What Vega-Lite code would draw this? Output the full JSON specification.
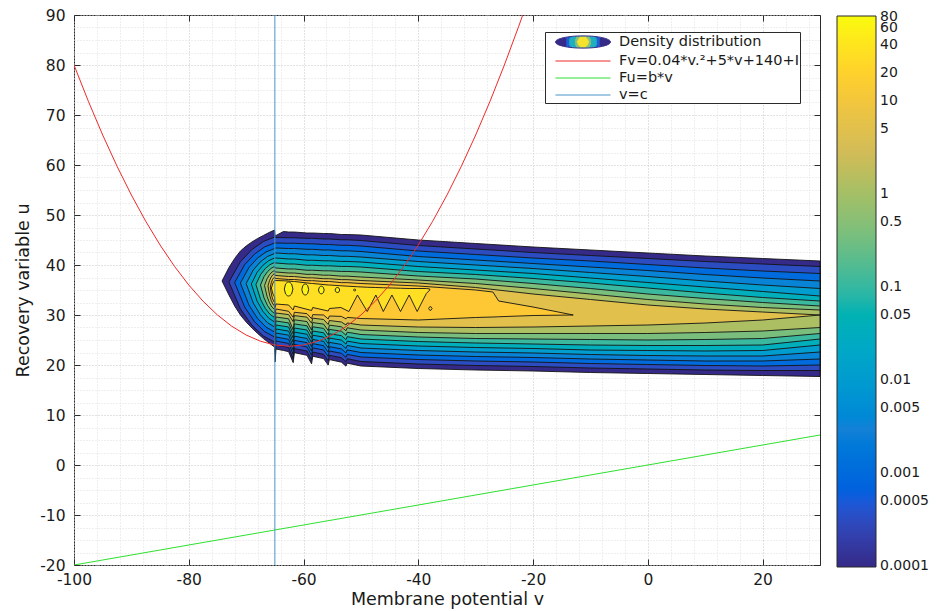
{
  "$schema": "https://vega.github.io/schema/vega-lite/v6.json",
  "width": 746,
  "height": 550,
  "autosize": "none",
  "padding": {"left": 74, "top": 15, "right": 118, "bottom": 46},
  "background": "white",
  "config": {
    "view": {"stroke": "#2b2b2b", "strokeWidth": 1},
    "font": "DejaVu Sans",
    "axis": {"labelFont": "DejaVu Sans", "titleFont": "DejaVu Sans", "titleFontWeight": "normal", "labelColor": "#1a1a1a", "titleColor": "#1a1a1a"}
  },
  "datasets": {
    "contour": [
      {"g":"k0","l":0.0001,"v":-74.2,"lo":36.8,"hi":36.8},
      {"g":"k0","l":0.0001,"v":-73,"lo":34,"hi":39.5},
      {"g":"k0","l":0.0001,"v":-72,"lo":31.8,"hi":41.3},
      {"g":"k0","l":0.0001,"v":-71,"lo":30,"hi":42.8},
      {"g":"k0","l":0.0001,"v":-70,"lo":28.6,"hi":43.8},
      {"g":"k0","l":0.0001,"v":-69,"lo":27.4,"hi":44.6},
      {"g":"k0","l":0.0001,"v":-68,"lo":26.3,"hi":45.3},
      {"g":"k0","l":0.0001,"v":-67,"lo":25.3,"hi":45.9},
      {"g":"k0","l":0.0001,"v":-66,"lo":24.4,"hi":46.5},
      {"g":"k0","l":0.0001,"v":-65.05,"lo":23.6,"hi":47.0},
      {"g":"k0","l":0.0001,"v":-64.95,"lo":20.6,"hi":45.8},
      {"g":"k0","l":0.0001,"v":-64.8,"lo":23.2,"hi":45.9},
      {"g":"k0","l":0.0001,"v":-63.5,"lo":22.9,"hi":46.7},
      {"g":"k0","l":0.0001,"v":-62.6,"lo":22.67,"hi":46.6},
      {"g":"k0","l":0.0001,"v":-61.8,"lo":20.47,"hi":46.6},
      {"g":"k0","l":0.0001,"v":-61.6,"lo":22.47,"hi":46.6},
      {"g":"k0","l":0.0001,"v":-59.4,"lo":21.94,"hi":46.4},
      {"g":"k0","l":0.0001,"v":-58.6,"lo":20.24,"hi":46.4},
      {"g":"k0","l":0.0001,"v":-58.4,"lo":21.74,"hi":46.4},
      {"g":"k0","l":0.0001,"v":-56.5,"lo":21.28,"hi":46.3},
      {"g":"k0","l":0.0001,"v":-55.7,"lo":19.98,"hi":46.3},
      {"g":"k0","l":0.0001,"v":-55.5,"lo":21.08,"hi":46.3},
      {"g":"k0","l":0.0001,"v":-53.4,"lo":20.57,"hi":46.1},
      {"g":"k0","l":0.0001,"v":-52.6,"lo":19.77,"hi":46.1},
      {"g":"k0","l":0.0001,"v":-52.4,"lo":20.37,"hi":46.1},
      {"g":"k0","l":0.0001,"v":-50,"lo":19.8,"hi":46.0},
      {"g":"k0","l":0.0001,"v":-40,"lo":19.3,"hi":45.0},
      {"g":"k0","l":0.0001,"v":-30,"lo":19.0,"hi":44.3},
      {"g":"k0","l":0.0001,"v":-20,"lo":18.8,"hi":43.6},
      {"g":"k0","l":0.0001,"v":-10,"lo":18.5,"hi":43.0},
      {"g":"k0","l":0.0001,"v":0,"lo":18.3,"hi":42.4},
      {"g":"k0","l":0.0001,"v":10,"lo":18.1,"hi":41.8},
      {"g":"k0","l":0.0001,"v":20,"lo":17.9,"hi":41.3},
      {"g":"k0","l":0.0001,"v":30,"lo":17.7,"hi":40.8},

      {"g":"k1","l":0.00032,"v":-73.0,"lo":36.6,"hi":36.6},
      {"g":"k1","l":0.00032,"v":-71.0,"lo":31.2,"hi":40.65},
      {"g":"k1","l":0.00032,"v":-69.0,"lo":27.96,"hi":43.08},
      {"g":"k1","l":0.00032,"v":-67.0,"lo":25.8,"hi":44.7},
      {"g":"k1","l":0.00032,"v":-65.05,"lo":24.6,"hi":45.6},
      {"g":"k1","l":0.00032,"v":-64.95,"lo":22.5,"hi":45.5},
      {"g":"k1","l":0.00032,"v":-64.8,"lo":24.0,"hi":45.5},
      {"g":"k1","l":0.00032,"v":-62.6,"lo":23.49,"hi":45.45},
      {"g":"k1","l":0.00032,"v":-61.8,"lo":21.29,"hi":45.45},
      {"g":"k1","l":0.00032,"v":-61.6,"lo":23.29,"hi":45.45},
      {"g":"k1","l":0.00032,"v":-59.4,"lo":22.79,"hi":45.34},
      {"g":"k1","l":0.00032,"v":-58.6,"lo":21.09,"hi":45.34},
      {"g":"k1","l":0.00032,"v":-58.4,"lo":22.59,"hi":45.34},
      {"g":"k1","l":0.00032,"v":-56.5,"lo":22.14,"hi":45.2},
      {"g":"k1","l":0.00032,"v":-55.7,"lo":20.84,"hi":45.2},
      {"g":"k1","l":0.00032,"v":-55.5,"lo":21.94,"hi":45.2},
      {"g":"k1","l":0.00032,"v":-53.4,"lo":21.46,"hi":45.04},
      {"g":"k1","l":0.00032,"v":-52.6,"lo":20.66,"hi":45.04},
      {"g":"k1","l":0.00032,"v":-52.4,"lo":21.26,"hi":45.04},
      {"g":"k1","l":0.00032,"v":-50,"lo":20.7,"hi":44.9},
      {"g":"k1","l":0.00032,"v":-40,"lo":20.2,"hi":43.9},
      {"g":"k1","l":0.00032,"v":-30,"lo":19.9,"hi":43.2},
      {"g":"k1","l":0.00032,"v":-20,"lo":19.7,"hi":42.5},
      {"g":"k1","l":0.00032,"v":-10,"lo":19.4,"hi":41.9},
      {"g":"k1","l":0.00032,"v":0,"lo":19.2,"hi":41.3},
      {"g":"k1","l":0.00032,"v":10,"lo":19.0,"hi":40.7},
      {"g":"k1","l":0.00032,"v":20,"lo":18.9,"hi":40.2},
      {"g":"k1","l":0.00032,"v":30,"lo":18.9,"hi":39.7},

      {"g":"k2","l":0.00105,"v":-72.0,"lo":36.5,"hi":36.5},
      {"g":"k2","l":0.00105,"v":-70.26,"lo":31.6,"hi":40.06},
      {"g":"k2","l":0.00105,"v":-68.53,"lo":28.65,"hi":42.19},
      {"g":"k2","l":0.00105,"v":-66.79,"lo":26.69,"hi":43.61},
      {"g":"k2","l":0.00105,"v":-65.05,"lo":25.6,"hi":44.4},
      {"g":"k2","l":0.00105,"v":-64.95,"lo":23.3,"hi":44.4},
      {"g":"k2","l":0.00105,"v":-64.8,"lo":24.8,"hi":44.4},
      {"g":"k2","l":0.00105,"v":-62.6,"lo":24.31,"hi":44.35},
      {"g":"k2","l":0.00105,"v":-61.8,"lo":22.11,"hi":44.35},
      {"g":"k2","l":0.00105,"v":-61.6,"lo":24.11,"hi":44.35},
      {"g":"k2","l":0.00105,"v":-59.4,"lo":23.62,"hi":44.24},
      {"g":"k2","l":0.00105,"v":-58.6,"lo":21.92,"hi":44.24},
      {"g":"k2","l":0.00105,"v":-58.4,"lo":23.42,"hi":44.24},
      {"g":"k2","l":0.00105,"v":-56.5,"lo":23.0,"hi":44.1},
      {"g":"k2","l":0.00105,"v":-55.7,"lo":21.7,"hi":44.1},
      {"g":"k2","l":0.00105,"v":-55.5,"lo":22.8,"hi":44.1},
      {"g":"k2","l":0.00105,"v":-53.4,"lo":22.33,"hi":43.94},
      {"g":"k2","l":0.00105,"v":-52.6,"lo":21.53,"hi":43.94},
      {"g":"k2","l":0.00105,"v":-52.4,"lo":22.13,"hi":43.94},
      {"g":"k2","l":0.00105,"v":-50,"lo":21.6,"hi":43.8},
      {"g":"k2","l":0.00105,"v":-40,"lo":21.1,"hi":42.8},
      {"g":"k2","l":0.00105,"v":-30,"lo":20.8,"hi":42.1},
      {"g":"k2","l":0.00105,"v":-20,"lo":20.6,"hi":41.4},
      {"g":"k2","l":0.00105,"v":-10,"lo":20.3,"hi":40.8},
      {"g":"k2","l":0.00105,"v":0,"lo":20.1,"hi":40.1},
      {"g":"k2","l":0.00105,"v":10,"lo":19.9,"hi":39.4},
      {"g":"k2","l":0.00105,"v":20,"lo":19.8,"hi":38.8},
      {"g":"k2","l":0.00105,"v":30,"lo":20.0,"hi":38.3},

      {"g":"k3","l":0.0033,"v":-71.0,"lo":36.4,"hi":36.4},
      {"g":"k3","l":0.0033,"v":-69.51,"lo":31.99,"hi":39.5},
      {"g":"k3","l":0.0033,"v":-68.03,"lo":29.34,"hi":41.37},
      {"g":"k3","l":0.0033,"v":-66.54,"lo":27.58,"hi":42.61},
      {"g":"k3","l":0.0033,"v":-65.05,"lo":26.6,"hi":43.3},
      {"g":"k3","l":0.0033,"v":-64.95,"lo":24.1,"hi":43.4},
      {"g":"k3","l":0.0033,"v":-64.8,"lo":25.6,"hi":43.4},
      {"g":"k3","l":0.0033,"v":-62.6,"lo":25.13,"hi":43.3},
      {"g":"k3","l":0.0033,"v":-61.8,"lo":22.93,"hi":43.3},
      {"g":"k3","l":0.0033,"v":-61.6,"lo":24.93,"hi":43.3},
      {"g":"k3","l":0.0033,"v":-59.4,"lo":24.47,"hi":43.14},
      {"g":"k3","l":0.0033,"v":-58.6,"lo":22.77,"hi":43.14},
      {"g":"k3","l":0.0033,"v":-58.4,"lo":24.27,"hi":43.14},
      {"g":"k3","l":0.0033,"v":-56.5,"lo":23.87,"hi":43.0},
      {"g":"k3","l":0.0033,"v":-55.7,"lo":22.57,"hi":43.0},
      {"g":"k3","l":0.0033,"v":-55.5,"lo":23.67,"hi":43.0},
      {"g":"k3","l":0.0033,"v":-53.4,"lo":23.22,"hi":42.84},
      {"g":"k3","l":0.0033,"v":-52.6,"lo":22.42,"hi":42.84},
      {"g":"k3","l":0.0033,"v":-52.4,"lo":23.02,"hi":42.84},
      {"g":"k3","l":0.0033,"v":-50,"lo":22.5,"hi":42.7},
      {"g":"k3","l":0.0033,"v":-40,"lo":22.0,"hi":41.7},
      {"g":"k3","l":0.0033,"v":-30,"lo":21.7,"hi":41.0},
      {"g":"k3","l":0.0033,"v":-20,"lo":21.5,"hi":40.3},
      {"g":"k3","l":0.0033,"v":-10,"lo":21.2,"hi":39.6},
      {"g":"k3","l":0.0033,"v":0,"lo":21.0,"hi":38.9},
      {"g":"k3","l":0.0033,"v":10,"lo":20.8,"hi":38.1},
      {"g":"k3","l":0.0033,"v":20,"lo":20.8,"hi":37.4},
      {"g":"k3","l":0.0033,"v":30,"lo":21.2,"hi":36.8},

      {"g":"k4","l":0.011,"v":-70.0,"lo":36.3,"hi":36.3},
      {"g":"k4","l":0.011,"v":-68.76,"lo":32.39,"hi":39.0},
      {"g":"k4","l":0.011,"v":-67.53,"lo":30.04,"hi":40.62},
      {"g":"k4","l":0.011,"v":-66.29,"lo":28.47,"hi":41.7},
      {"g":"k4","l":0.011,"v":-65.05,"lo":27.6,"hi":42.3},
      {"g":"k4","l":0.011,"v":-64.95,"lo":24.9,"hi":42.4},
      {"g":"k4","l":0.011,"v":-64.8,"lo":26.4,"hi":42.4},
      {"g":"k4","l":0.011,"v":-62.6,"lo":25.96,"hi":42.25},
      {"g":"k4","l":0.011,"v":-61.8,"lo":23.76,"hi":42.25},
      {"g":"k4","l":0.011,"v":-61.6,"lo":25.76,"hi":42.25},
      {"g":"k4","l":0.011,"v":-59.4,"lo":25.31,"hi":42.04},
      {"g":"k4","l":0.011,"v":-58.6,"lo":23.61,"hi":42.04},
      {"g":"k4","l":0.011,"v":-58.4,"lo":25.11,"hi":42.04},
      {"g":"k4","l":0.011,"v":-56.5,"lo":24.73,"hi":41.9},
      {"g":"k4","l":0.011,"v":-55.7,"lo":23.43,"hi":41.9},
      {"g":"k4","l":0.011,"v":-55.5,"lo":24.53,"hi":41.9},
      {"g":"k4","l":0.011,"v":-53.4,"lo":24.11,"hi":41.74},
      {"g":"k4","l":0.011,"v":-52.6,"lo":23.31,"hi":41.74},
      {"g":"k4","l":0.011,"v":-52.4,"lo":23.91,"hi":41.74},
      {"g":"k4","l":0.011,"v":-50,"lo":23.4,"hi":41.6},
      {"g":"k4","l":0.011,"v":-40,"lo":22.9,"hi":40.7},
      {"g":"k4","l":0.011,"v":-30,"lo":22.6,"hi":40.0},
      {"g":"k4","l":0.011,"v":-20,"lo":22.4,"hi":39.3},
      {"g":"k4","l":0.011,"v":-10,"lo":22.1,"hi":38.5},
      {"g":"k4","l":0.011,"v":0,"lo":21.9,"hi":37.7},
      {"g":"k4","l":0.011,"v":10,"lo":21.8,"hi":36.8},
      {"g":"k4","l":0.011,"v":20,"lo":21.8,"hi":36.0},
      {"g":"k4","l":0.011,"v":30,"lo":22.6,"hi":35.3},

      {"g":"k5","l":0.035,"v":-69.1,"lo":36.2,"hi":36.2},
      {"g":"k5","l":0.035,"v":-68.09,"lo":32.78,"hi":38.54},
      {"g":"k5","l":0.035,"v":-67.08,"lo":30.73,"hi":39.94},
      {"g":"k5","l":0.035,"v":-66.06,"lo":29.36,"hi":40.88},
      {"g":"k5","l":0.035,"v":-65.05,"lo":28.6,"hi":41.4},
      {"g":"k5","l":0.035,"v":-64.95,"lo":25.7,"hi":41.4},
      {"g":"k5","l":0.035,"v":-64.8,"lo":27.2,"hi":41.4},
      {"g":"k5","l":0.035,"v":-62.6,"lo":26.78,"hi":41.2},
      {"g":"k5","l":0.035,"v":-61.8,"lo":24.58,"hi":41.2},
      {"g":"k5","l":0.035,"v":-61.6,"lo":26.58,"hi":41.2},
      {"g":"k5","l":0.035,"v":-59.4,"lo":26.15,"hi":40.95},
      {"g":"k5","l":0.035,"v":-58.6,"lo":24.45,"hi":40.95},
      {"g":"k5","l":0.035,"v":-58.4,"lo":25.95,"hi":40.95},
      {"g":"k5","l":0.035,"v":-56.5,"lo":25.59,"hi":40.84},
      {"g":"k5","l":0.035,"v":-55.7,"lo":24.29,"hi":40.84},
      {"g":"k5","l":0.035,"v":-55.5,"lo":25.39,"hi":40.84},
      {"g":"k5","l":0.035,"v":-53.4,"lo":24.98,"hi":40.71},
      {"g":"k5","l":0.035,"v":-52.6,"lo":24.18,"hi":40.71},
      {"g":"k5","l":0.035,"v":-52.4,"lo":24.78,"hi":40.71},
      {"g":"k5","l":0.035,"v":-50,"lo":24.3,"hi":40.6},
      {"g":"k5","l":0.035,"v":-40,"lo":23.8,"hi":39.7},
      {"g":"k5","l":0.035,"v":-30,"lo":23.5,"hi":39.0},
      {"g":"k5","l":0.035,"v":-20,"lo":23.3,"hi":38.3},
      {"g":"k5","l":0.035,"v":-10,"lo":23.0,"hi":37.4},
      {"g":"k5","l":0.035,"v":0,"lo":22.9,"hi":36.5},
      {"g":"k5","l":0.035,"v":10,"lo":22.8,"hi":35.6},
      {"g":"k5","l":0.035,"v":20,"lo":22.9,"hi":34.7},
      {"g":"k5","l":0.035,"v":30,"lo":24.0,"hi":33.8},

      {"g":"k6","l":0.11,"v":-68.3,"lo":36.1,"hi":36.1},
      {"g":"k6","l":0.11,"v":-67.49,"lo":33.13,"hi":38.08},
      {"g":"k6","l":0.11,"v":-66.68,"lo":31.35,"hi":39.27},
      {"g":"k6","l":0.11,"v":-65.86,"lo":30.16,"hi":40.06},
      {"g":"k6","l":0.11,"v":-65.05,"lo":29.5,"hi":40.5},
      {"g":"k6","l":0.11,"v":-64.95,"lo":26.5,"hi":40.4},
      {"g":"k6","l":0.11,"v":-64.8,"lo":28.0,"hi":40.4},
      {"g":"k6","l":0.11,"v":-62.6,"lo":27.6,"hi":40.2},
      {"g":"k6","l":0.11,"v":-61.8,"lo":25.4,"hi":40.2},
      {"g":"k6","l":0.11,"v":-61.6,"lo":27.4,"hi":40.2},
      {"g":"k6","l":0.11,"v":-59.4,"lo":27.0,"hi":39.95},
      {"g":"k6","l":0.11,"v":-58.6,"lo":25.3,"hi":39.95},
      {"g":"k6","l":0.11,"v":-58.4,"lo":26.8,"hi":39.95},
      {"g":"k6","l":0.11,"v":-56.5,"lo":26.45,"hi":39.84},
      {"g":"k6","l":0.11,"v":-55.7,"lo":25.15,"hi":39.84},
      {"g":"k6","l":0.11,"v":-55.5,"lo":26.25,"hi":39.84},
      {"g":"k6","l":0.11,"v":-53.4,"lo":25.87,"hi":39.71},
      {"g":"k6","l":0.11,"v":-52.6,"lo":25.07,"hi":39.71},
      {"g":"k6","l":0.11,"v":-52.4,"lo":25.67,"hi":39.71},
      {"g":"k6","l":0.11,"v":-50,"lo":25.2,"hi":39.6},
      {"g":"k6","l":0.11,"v":-40,"lo":24.7,"hi":38.7},
      {"g":"k6","l":0.11,"v":-30,"lo":24.4,"hi":38.1},
      {"g":"k6","l":0.11,"v":-20,"lo":24.2,"hi":37.3},
      {"g":"k6","l":0.11,"v":-10,"lo":24.0,"hi":36.4},
      {"g":"k6","l":0.11,"v":0,"lo":23.9,"hi":35.4},
      {"g":"k6","l":0.11,"v":10,"lo":23.9,"hi":34.4},
      {"g":"k6","l":0.11,"v":20,"lo":24.0,"hi":33.5},
      {"g":"k6","l":0.11,"v":30,"lo":25.2,"hi":32.8},

      {"g":"k7","l":0.37,"v":-67.5,"lo":36.0,"hi":36.0},
      {"g":"k7","l":0.37,"v":-66.89,"lo":33.44,"hi":37.67},
      {"g":"k7","l":0.37,"v":-66.28,"lo":31.9,"hi":38.66},
      {"g":"k7","l":0.37,"v":-65.66,"lo":30.87,"hi":39.33},
      {"g":"k7","l":0.37,"v":-65.05,"lo":30.3,"hi":39.7},
      {"g":"k7","l":0.37,"v":-64.95,"lo":27.3,"hi":39.4},
      {"g":"k7","l":0.37,"v":-64.8,"lo":28.8,"hi":39.4},
      {"g":"k7","l":0.37,"v":-62.6,"lo":28.42,"hi":39.2},
      {"g":"k7","l":0.37,"v":-61.8,"lo":26.22,"hi":39.2},
      {"g":"k7","l":0.37,"v":-61.6,"lo":28.22,"hi":39.2},
      {"g":"k7","l":0.37,"v":-59.4,"lo":27.84,"hi":38.95},
      {"g":"k7","l":0.37,"v":-58.6,"lo":26.14,"hi":38.95},
      {"g":"k7","l":0.37,"v":-58.4,"lo":27.64,"hi":38.95},
      {"g":"k7","l":0.37,"v":-56.5,"lo":27.32,"hi":38.84},
      {"g":"k7","l":0.37,"v":-55.7,"lo":26.02,"hi":38.84},
      {"g":"k7","l":0.37,"v":-55.5,"lo":27.12,"hi":38.84},
      {"g":"k7","l":0.37,"v":-53.4,"lo":26.76,"hi":38.71},
      {"g":"k7","l":0.37,"v":-52.6,"lo":25.96,"hi":38.71},
      {"g":"k7","l":0.37,"v":-52.4,"lo":26.56,"hi":38.71},
      {"g":"k7","l":0.37,"v":-50,"lo":26.1,"hi":38.6},
      {"g":"k7","l":0.37,"v":-40,"lo":25.6,"hi":37.8},
      {"g":"k7","l":0.37,"v":-30,"lo":25.3,"hi":37.2},
      {"g":"k7","l":0.37,"v":-20,"lo":25.2,"hi":36.3},
      {"g":"k7","l":0.37,"v":-10,"lo":25.1,"hi":35.3},
      {"g":"k7","l":0.37,"v":0,"lo":25.0,"hi":34.2},
      {"g":"k7","l":0.37,"v":10,"lo":25.1,"hi":33.3},
      {"g":"k7","l":0.37,"v":20,"lo":25.3,"hi":32.5},
      {"g":"k7","l":0.37,"v":30,"lo":26.3,"hi":31.8},

      {"g":"k8","l":1.2,"v":-66.8,"lo":35.9,"hi":35.9},
      {"g":"k8","l":1.2,"v":-66.36,"lo":33.74,"hi":37.25},
      {"g":"k8","l":1.2,"v":-65.93,"lo":32.44,"hi":38.06},
      {"g":"k8","l":1.2,"v":-65.49,"lo":31.58,"hi":38.6},
      {"g":"k8","l":1.2,"v":-65.05,"lo":31.1,"hi":38.9},
      {"g":"k8","l":1.2,"v":-64.95,"lo":28.1,"hi":38.6},
      {"g":"k8","l":1.2,"v":-64.8,"lo":29.6,"hi":38.6},
      {"g":"k8","l":1.2,"v":-62.6,"lo":29.24,"hi":38.4},
      {"g":"k8","l":1.2,"v":-61.8,"lo":27.04,"hi":38.4},
      {"g":"k8","l":1.2,"v":-61.6,"lo":29.04,"hi":38.4},
      {"g":"k8","l":1.2,"v":-59.4,"lo":28.69,"hi":38.13},
      {"g":"k8","l":1.2,"v":-58.6,"lo":26.99,"hi":38.13},
      {"g":"k8","l":1.2,"v":-58.4,"lo":28.49,"hi":38.13},
      {"g":"k8","l":1.2,"v":-56.5,"lo":28.18,"hi":37.96},
      {"g":"k8","l":1.2,"v":-55.7,"lo":26.88,"hi":37.96},
      {"g":"k8","l":1.2,"v":-55.5,"lo":27.98,"hi":37.96},
      {"g":"k8","l":1.2,"v":-53.4,"lo":27.64,"hi":37.77},
      {"g":"k8","l":1.2,"v":-52.6,"lo":26.84,"hi":37.77},
      {"g":"k8","l":1.2,"v":-52.4,"lo":27.44,"hi":37.77},
      {"g":"k8","l":1.2,"v":-50,"lo":27.0,"hi":37.6},
      {"g":"k8","l":1.2,"v":-40,"lo":26.5,"hi":37.0},
      {"g":"k8","l":1.2,"v":-30,"lo":26.3,"hi":36.3},
      {"g":"k8","l":1.2,"v":-20,"lo":26.3,"hi":35.3},
      {"g":"k8","l":1.2,"v":-10,"lo":26.3,"hi":34.2},
      {"g":"k8","l":1.2,"v":0,"lo":26.3,"hi":33.1},
      {"g":"k8","l":1.2,"v":10,"lo":26.5,"hi":32.2},
      {"g":"k8","l":1.2,"v":20,"lo":26.8,"hi":31.5},
      {"g":"k8","l":1.2,"v":30,"lo":27.5,"hi":31.0},

      {"g":"k9","l":5,"v":-66.2,"lo":35.8,"hi":35.8},
      {"g":"k9","l":5,"v":-65.91,"lo":34.0,"hi":36.93},
      {"g":"k9","l":5,"v":-65.63,"lo":32.92,"hi":37.6},
      {"g":"k9","l":5,"v":-65.34,"lo":32.2,"hi":38.05},
      {"g":"k9","l":5,"v":-65.05,"lo":31.8,"hi":38.3},
      {"g":"k9","l":5,"v":-64.95,"lo":29.2,"hi":37.9},
      {"g":"k9","l":5,"v":-64.8,"lo":30.4,"hi":37.9},
      {"g":"k9","l":5,"v":-62.6,"lo":30.08,"hi":37.7},
      {"g":"k9","l":5,"v":-61.8,"lo":28.68,"hi":37.7},
      {"g":"k9","l":5,"v":-61.6,"lo":29.88,"hi":37.7},
      {"g":"k9","l":5,"v":-59.4,"lo":29.57,"hi":37.43},
      {"g":"k9","l":5,"v":-58.6,"lo":28.37,"hi":37.43},
      {"g":"k9","l":5,"v":-58.4,"lo":29.37,"hi":37.43},
      {"g":"k9","l":5,"v":-56.5,"lo":29.1,"hi":37.26},
      {"g":"k9","l":5,"v":-55.7,"lo":28.1,"hi":37.26},
      {"g":"k9","l":5,"v":-55.5,"lo":28.9,"hi":37.26},
      {"g":"k9","l":5,"v":-53.4,"lo":28.6,"hi":37.07},
      {"g":"k9","l":5,"v":-52.6,"lo":28.0,"hi":37.07},
      {"g":"k9","l":5,"v":-52.4,"lo":28.4,"hi":37.07},
      {"g":"k9","l":5,"v":-50,"lo":28.0,"hi":36.9},
      {"g":"k9","l":5,"v":-40,"lo":27.6,"hi":36.4},
      {"g":"k9","l":5,"v":-30,"lo":27.5,"hi":35.5},
      {"g":"k9","l":5,"v":-20,"lo":27.6,"hi":34.2},
      {"g":"k9","l":5,"v":-10,"lo":27.8,"hi":33.1},
      {"g":"k9","l":5,"v":0,"lo":28.0,"hi":32.0},
      {"g":"k9","l":5,"v":10,"lo":28.4,"hi":31.2},
      {"g":"k9","l":5,"v":20,"lo":29.0,"hi":30.6},
      {"g":"k9","l":5,"v":30,"lo":30.0,"hi":30.0},

      {"g":"k10","l":14,"v":-65.8,"lo":35.6,"hi":35.6},
      {"g":"k10","l":14,"v":-65.61,"lo":34.2,"hi":36.5},
      {"g":"k10","l":14,"v":-65.43,"lo":33.37,"hi":37.04},
      {"g":"k10","l":14,"v":-65.24,"lo":32.81,"hi":37.4},
      {"g":"k10","l":14,"v":-65.05,"lo":32.5,"hi":37.6},
      {"g":"k10","l":14,"v":-64.95,"lo":30.2,"hi":37.3},
      {"g":"k10","l":14,"v":-64.8,"lo":31.2,"hi":37.3},
      {"g":"k10","l":14,"v":-62.6,"lo":30.75,"hi":37.1},
      {"g":"k10","l":14,"v":-61.8,"lo":29.55,"hi":37.1},
      {"g":"k10","l":14,"v":-61.6,"lo":30.55,"hi":37.1},
      {"g":"k10","l":14,"v":-59.4,"lo":30.27,"hi":36.86},
      {"g":"k10","l":14,"v":-58.6,"lo":29.27,"hi":36.86},
      {"g":"k10","l":14,"v":-58.4,"lo":30.07,"hi":36.86},
      {"g":"k10","l":14,"v":-56.5,"lo":30.0,"hi":36.7},
      {"g":"k10","l":14,"v":-55.7,"lo":29.2,"hi":36.7},
      {"g":"k10","l":14,"v":-55.5,"lo":29.8,"hi":36.7},
      {"g":"k10","l":14,"v":-53.4,"lo":29.72,"hi":36.47},
      {"g":"k10","l":14,"v":-52.6,"lo":29.22,"hi":36.47},
      {"g":"k10","l":14,"v":-52.4,"lo":29.52,"hi":36.47},
      {"g":"k10","l":14,"v":-50,"lo":29.3,"hi":36.3},
      {"g":"k10","l":14,"v":-40,"lo":29.0,"hi":35.8},
      {"g":"k10","l":14,"v":-30,"lo":29.5,"hi":35.0},
      {"g":"k10","l":14,"v":-27,"lo":29.6,"hi":34.6},
      {"g":"k10","l":14,"v":-26,"lo":29.65,"hi":32.8},
      {"g":"k10","l":14,"v":-20,"lo":29.9,"hi":31.6},
      {"g":"k10","l":14,"v":-13,"lo":30.0,"hi":30.0},

      {"g":"k11","l":32,"v":-65.6,"lo":35.4,"hi":35.4},
      {"g":"k11","l":32,"v":-65.33,"lo":34.2,"hi":36.4},
      {"g":"k11","l":32,"v":-65.05,"lo":33.6,"hi":36.9},
      {"g":"k11","l":32,"v":-64.95,"lo":31.5,"hi":36.9},
      {"g":"k11","l":32,"v":-64.8,"lo":32.2,"hi":36.9},
      {"g":"k11","l":32,"v":-62.6,"lo":32.0,"hi":36.8},
      {"g":"k11","l":32,"v":-61.8,"lo":31.0,"hi":36.7},
      {"g":"k11","l":32,"v":-61.6,"lo":31.8,"hi":36.7},
      {"g":"k11","l":32,"v":-58.6,"lo":30.9,"hi":36.3},
      {"g":"k11","l":32,"v":-58.4,"lo":31.5,"hi":36.3},
      {"g":"k11","l":32,"v":-55.7,"lo":30.8,"hi":36.0},
      {"g":"k11","l":32,"v":-55.5,"lo":31.3,"hi":36.0},
      {"g":"k11","l":32,"v":-53.5,"lo":31.5,"hi":35.85},
      {"g":"k11","l":32,"v":-52.1,"lo":30.7,"hi":35.75},
      {"g":"k11","l":32,"v":-50.6,"lo":34.0,"hi":35.65},
      {"g":"k11","l":32,"v":-48.9,"lo":30.7,"hi":35.55},
      {"g":"k11","l":32,"v":-47.4,"lo":34.0,"hi":35.5},
      {"g":"k11","l":32,"v":-46.1,"lo":30.7,"hi":35.45},
      {"g":"k11","l":32,"v":-44.6,"lo":34.0,"hi":35.4},
      {"g":"k11","l":32,"v":-43.1,"lo":30.7,"hi":35.35},
      {"g":"k11","l":32,"v":-41.6,"lo":34.0,"hi":35.3},
      {"g":"k11","l":32,"v":-40.2,"lo":30.7,"hi":35.3},
      {"g":"k11","l":32,"v":-38.6,"lo":34.3,"hi":35.3},
      {"g":"k11","l":32,"v":-38.0,"lo":35.0,"hi":35.2},

      {"g":"i1","l":32,"v":-38.2,"lo":31.3,"hi":31.3},
      {"g":"i1","l":32,"v":-38.0,"lo":30.95,"hi":31.65},
      {"g":"i1","l":32,"v":-37.8,"lo":30.95,"hi":31.65},
      {"g":"i1","l":32,"v":-37.6,"lo":31.3,"hi":31.3},

      {"g":"L1","l":62,"v":-63.35,"lo":35.2,"hi":35.2},
      {"g":"L1","l":62,"v":-63.13,"lo":34.2,"hi":36.2},
      {"g":"L1","l":62,"v":-62.83,"lo":33.86,"hi":36.54},
      {"g":"L1","l":62,"v":-62.6,"lo":33.8,"hi":36.6},
      {"g":"L1","l":62,"v":-62.38,"lo":33.86,"hi":36.54},
      {"g":"L1","l":62,"v":-62.08,"lo":34.2,"hi":36.2},
      {"g":"L1","l":62,"v":-61.85,"lo":35.2,"hi":35.2},

      {"g":"L2","l":62,"v":-60.3,"lo":35.1,"hi":35.1},
      {"g":"L2","l":62,"v":-60.12,"lo":34.31,"hi":35.89},
      {"g":"L2","l":62,"v":-59.88,"lo":34.05,"hi":36.15},
      {"g":"L2","l":62,"v":-59.7,"lo":34.0,"hi":36.2},
      {"g":"L2","l":62,"v":-59.52,"lo":34.05,"hi":36.15},
      {"g":"L2","l":62,"v":-59.28,"lo":34.31,"hi":35.89},
      {"g":"L2","l":62,"v":-59.1,"lo":35.1,"hi":35.1},

      {"g":"L3","l":62,"v":-57.4,"lo":35.0,"hi":35.0},
      {"g":"L3","l":62,"v":-57.25,"lo":34.46,"hi":35.54},
      {"g":"L3","l":62,"v":-57.05,"lo":34.28,"hi":35.72},
      {"g":"L3","l":62,"v":-56.9,"lo":34.25,"hi":35.75},
      {"g":"L3","l":62,"v":-56.75,"lo":34.28,"hi":35.72},
      {"g":"L3","l":62,"v":-56.55,"lo":34.46,"hi":35.54},
      {"g":"L3","l":62,"v":-56.4,"lo":35.0,"hi":35.0},

      {"g":"L4","l":62,"v":-54.5,"lo":35.0,"hi":35.0},
      {"g":"L4","l":62,"v":-54.38,"lo":34.64,"hi":35.36},
      {"g":"L4","l":62,"v":-54.22,"lo":34.52,"hi":35.48},
      {"g":"L4","l":62,"v":-54.1,"lo":34.5,"hi":35.5},
      {"g":"L4","l":62,"v":-53.98,"lo":34.52,"hi":35.48},
      {"g":"L4","l":62,"v":-53.82,"lo":34.64,"hi":35.36},
      {"g":"L4","l":62,"v":-53.7,"lo":35.0,"hi":35.0},

      {"g":"L5","l":62,"v":-51.3,"lo":35.0,"hi":35.0},
      {"g":"L5","l":62,"v":-51.1,"lo":34.75,"hi":35.25},
      {"g":"L5","l":62,"v":-50.9,"lo":35.0,"hi":35.0}
    ],
    "curves": [
      {"s":"Fv=0.04*v.²+5*v+140+I","v":-100,"u":80},
      {"s":"Fv=0.04*v.²+5*v+140+I","v":-97.5,"u":72.75},
      {"s":"Fv=0.04*v.²+5*v+140+I","v":-95,"u":66},
      {"s":"Fv=0.04*v.²+5*v+140+I","v":-92.5,"u":59.75},
      {"s":"Fv=0.04*v.²+5*v+140+I","v":-90,"u":54},
      {"s":"Fv=0.04*v.²+5*v+140+I","v":-87.5,"u":48.75},
      {"s":"Fv=0.04*v.²+5*v+140+I","v":-85,"u":44},
      {"s":"Fv=0.04*v.²+5*v+140+I","v":-82.5,"u":39.75},
      {"s":"Fv=0.04*v.²+5*v+140+I","v":-80,"u":36},
      {"s":"Fv=0.04*v.²+5*v+140+I","v":-77.5,"u":32.75},
      {"s":"Fv=0.04*v.²+5*v+140+I","v":-75,"u":30},
      {"s":"Fv=0.04*v.²+5*v+140+I","v":-72.5,"u":27.75},
      {"s":"Fv=0.04*v.²+5*v+140+I","v":-70,"u":26},
      {"s":"Fv=0.04*v.²+5*v+140+I","v":-67.5,"u":24.75},
      {"s":"Fv=0.04*v.²+5*v+140+I","v":-65,"u":24},
      {"s":"Fv=0.04*v.²+5*v+140+I","v":-62.5,"u":23.75},
      {"s":"Fv=0.04*v.²+5*v+140+I","v":-60,"u":24},
      {"s":"Fv=0.04*v.²+5*v+140+I","v":-57.5,"u":24.75},
      {"s":"Fv=0.04*v.²+5*v+140+I","v":-55,"u":26},
      {"s":"Fv=0.04*v.²+5*v+140+I","v":-52.5,"u":27.75},
      {"s":"Fv=0.04*v.²+5*v+140+I","v":-50,"u":30},
      {"s":"Fv=0.04*v.²+5*v+140+I","v":-47.5,"u":32.75},
      {"s":"Fv=0.04*v.²+5*v+140+I","v":-45,"u":36},
      {"s":"Fv=0.04*v.²+5*v+140+I","v":-42.5,"u":39.75},
      {"s":"Fv=0.04*v.²+5*v+140+I","v":-40,"u":44},
      {"s":"Fv=0.04*v.²+5*v+140+I","v":-37.5,"u":48.75},
      {"s":"Fv=0.04*v.²+5*v+140+I","v":-35,"u":54},
      {"s":"Fv=0.04*v.²+5*v+140+I","v":-32.5,"u":59.75},
      {"s":"Fv=0.04*v.²+5*v+140+I","v":-30,"u":66},
      {"s":"Fv=0.04*v.²+5*v+140+I","v":-27.5,"u":72.75},
      {"s":"Fv=0.04*v.²+5*v+140+I","v":-25,"u":80},
      {"s":"Fv=0.04*v.²+5*v+140+I","v":-22.5,"u":87.75},
      {"s":"Fv=0.04*v.²+5*v+140+I","v":-21.8,"u":90},
      {"s":"Fu=b*v","v":-100,"u":-20},
      {"s":"Fu=b*v","v":30,"u":6},
      {"s":"v=c","v":-65,"u":-20},
      {"s":"v=c","v":-65,"u":90}
    ]
  },
  "layer": [
    {
      "data": {"name": "contour"},
      "mark": {"type": "area", "stroke": "#141414", "strokeWidth": 1, "strokeOpacity": 0.9, "opacity": 1, "fillOpacity": 1},
      "encoding": {
        "x": {"field": "v", "type": "quantitative", "scale": {"domain": [-100, 30], "nice": false, "zero": false}, "axis": null},
        "y": {"field": "lo", "type": "quantitative", "scale": {"domain": [-20, 90], "nice": false, "zero": false}, "axis": null},
        "y2": {"field": "hi"},
        "color": {
          "field": "l", "type": "quantitative",
          "scale": {"type": "log", "domain": [0.0000985, 0.000547, 0.00299, 0.01637, 0.0894, 0.489, 2.67, 14.6, 81.5], "range": ["#352a87", "#0f5cdd", "#1481d6", "#06a4ca", "#2eb7a4", "#87bf77", "#d1bb59", "#fec832", "#f9fb0e"]},
          "legend": {
            "orient": "none", "legendX": 763, "legendY": 1, "direction": "vertical", "title": null,
            "gradientLength": 551, "gradientThickness": 39,
            "gradientStrokeColor": "#2b2b2b", "gradientStrokeWidth": 1,
            "values": [0.0001, 0.0005, 0.001, 0.005, 0.01, 0.05, 0.1, 0.5, 1, 5, 10, 20, 40, 60, 80],
            "labelExpr": "'' + datum.value",
            "labelOverlap": false,
            "labelFont": "DejaVu Sans", "labelFontSize": 14, "labelColor": "#1a1a1a", "labelOffset": 4,
            "padding": 0
          }
        },
        "detail": {"field": "g"}
      }
    },
    {
      "data": {"name": "curves"},
      "mark": {"type": "line", "strokeWidth": 1, "clip": true},
      "encoding": {
        "x": {
          "field": "v", "type": "quantitative", "scale": {"domain": [-100, 30], "nice": false, "zero": false},
          "axis": {
            "orient": "bottom",
            "values": [-100,-96,-92,-88,-84,-80,-76,-72,-68,-64,-60,-56,-52,-48,-44,-40,-36,-32,-28,-24,-20,-16,-12,-8,-4,0,4,8,12,16,20,24,28],
            "title": "Membrane potential v", "titleFontSize": 17.5, "titlePadding": 3,
            "grid": true, "gridDash": [1, 2], "gridWidth": 1,
            "gridColor": {"condition": {"test": "datum.value % 20 === 0", "value": "#c4c4c4"}, "value": "#dedede"},
            "domain": false, "ticks": true, "tickSize": -6, "tickColor": "#2b2b2b",
            "tickOpacity": {"condition": {"test": "datum.value % 20 === 0", "value": 1}, "value": 0},
            "labelExpr": "datum.value % 20 === 0 ? '' + datum.value : ''",
            "labelFontSize": 15.5, "labelPadding": 13, "labelOverlap": false, "labelFlush": false
          }
        },
        "y": {
          "field": "u", "type": "quantitative", "scale": {"domain": [-20, 90], "nice": false, "zero": false},
          "axis": {
            "orient": "left",
            "values": [-20,-17.5,-15,-12.5,-10,-7.5,-5,-2.5,0,2.5,5,7.5,10,12.5,15,17.5,20,22.5,25,27.5,30,32.5,35,37.5,40,42.5,45,47.5,50,52.5,55,57.5,60,62.5,65,67.5,70,72.5,75,77.5,80,82.5,85,87.5,90],
            "title": "Recovery variable u", "titleFontSize": 17.5, "titlePadding": 7,
            "grid": true, "gridDash": [1, 2], "gridWidth": 1,
            "gridColor": {"condition": {"test": "datum.value % 10 === 0", "value": "#c4c4c4"}, "value": "#dedede"},
            "domain": false, "ticks": true, "tickSize": -6, "tickColor": "#2b2b2b",
            "tickOpacity": {"condition": {"test": "datum.value % 10 === 0", "value": 1}, "value": 0},
            "labelExpr": "datum.value % 10 === 0 ? '' + datum.value : ''",
            "labelFontSize": 15.5, "labelPadding": 15, "labelOverlap": false, "labelFlush": false
          }
        },
        "stroke": {
          "field": "s", "type": "nominal",
          "scale": {"domain": ["Density distribution", "Fv=0.04*v.²+5*v+140+I", "Fu=b*v", "v=c"], "range": ["#352a87", "#ee2a2a", "#2ee02e", "#4a94c8"]},
          "legend": {
            "orient": "none", "legendX": 471, "legendY": 17, "title": null,
            "strokeColor": "#2b2b2b", "fillColor": "white", "padding": 1,
            "symbolSize": 289, "symbolStrokeWidth": 1, "symbolOffset": 28,
            "labelOffset": 27, "labelFont": "DejaVu Sans", "labelFontSize": 14.5, "labelColor": "#1a1a1a", "labelLimit": 400,
            "rowPadding": 1,
            "encode": {
              "symbols": {
                "update": {
                  "shape": [
                    {"test": "datum.value === 'Density distribution'", "value": "M-3.24,0A3.24,0.72,0,1,1,3.24,0A3.24,0.72,0,1,1,-3.24,0Z"},
                    {"value": "M-3.24,0L3.24,0"}
                  ],
                  "fill": [
                    {"test": "datum.value === 'Density distribution'", "value": {"gradient": "radial", "x1": 0.5, "y1": 0.5, "r1": 0, "x2": 0.5, "y2": 0.5, "r2": 0.5, "stops": [
                      {"offset": 0, "color": "#f3e32c"}, {"offset": 0.2, "color": "#f3e32c"},
                      {"offset": 0.2, "color": "#8cc07a"}, {"offset": 0.3, "color": "#8cc07a"},
                      {"offset": 0.3, "color": "#1fb0c0"}, {"offset": 0.5, "color": "#1fb0c0"},
                      {"offset": 0.5, "color": "#1d5fd6"}, {"offset": 0.62, "color": "#1d5fd6"},
                      {"offset": 0.62, "color": "#352a87"}, {"offset": 1, "color": "#352a87"}
                    ]}},
                    {"value": "transparent"}
                  ]
                }
              }
            }
          }
        }
      }
    },
    {
      "data": {"name": "curves"},
      "mark": {"type": "point", "opacity": 0},
      "encoding": {
        "x": {
          "field": "v", "type": "quantitative", "scale": {"domain": [-100, 30], "nice": false, "zero": false},
          "axis": {"orient": "top", "values": [-100,-80,-60,-40,-20,0,20], "labels": false, "ticks": true, "tickSize": -6, "tickColor": "#2b2b2b", "domain": false, "grid": false, "title": null}
        },
        "y": {
          "field": "u", "type": "quantitative", "scale": {"domain": [-20, 90], "nice": false, "zero": false},
          "axis": {"orient": "right", "values": [-20,-10,0,10,20,30,40,50,60,70,80,90], "labels": false, "ticks": true, "tickSize": -6, "tickColor": "#2b2b2b", "domain": false, "grid": false, "title": null}
        }
      }
    }
  ],
  "resolve": {"axis": {"x": "independent", "y": "independent"}}
}
